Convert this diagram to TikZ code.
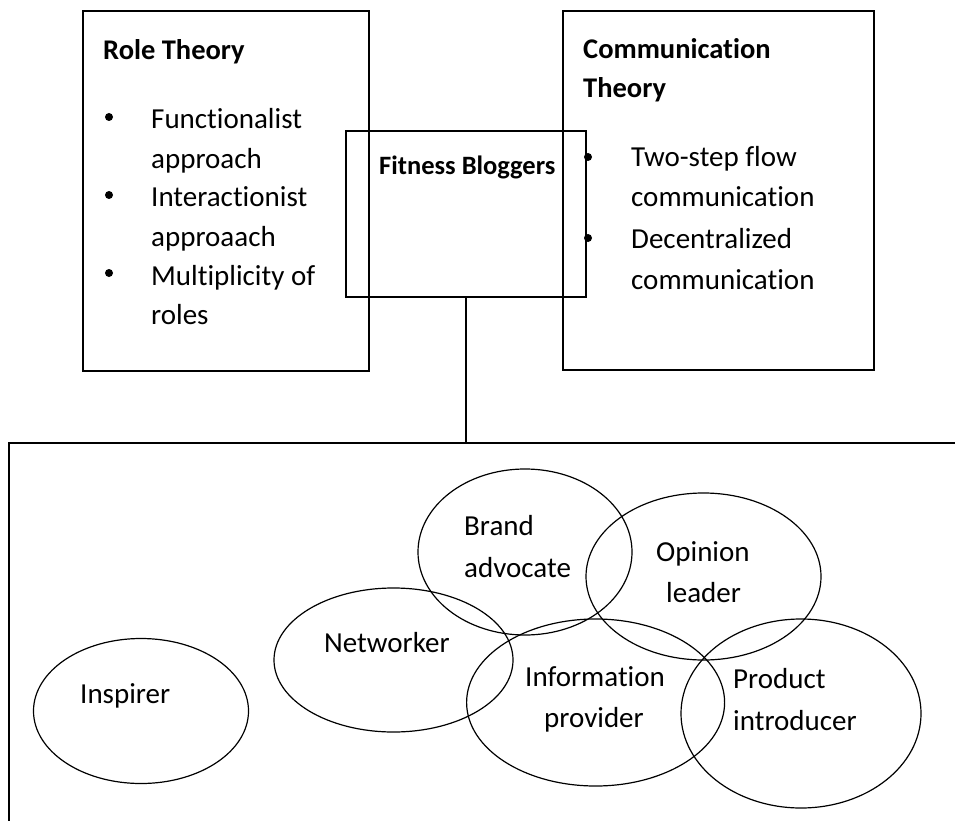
\documentclass[tikz,border=0pt]{standalone}
\usepackage{fontspec}
\setmainfont{Carlito}[Ligatures={NoCommon}]
\usetikzlibrary{shapes.geometric}
\begin{document}
\begin{tikzpicture}[x=1pt,y=-1pt,
  frame/.style={draw, line width=1.8pt, inner sep=0pt},
  rolecirc/.style={draw, ellipse, line width=1.2pt, inner sep=0pt},
  body/.style={anchor=base west, inner sep=0pt, font=\fontsize{29}{35}\selectfont},
  head/.style={anchor=base west, inner sep=0pt, font=\bfseries\fontsize{28.5}{35}\selectfont},
  bul/.style={circle, fill, inner sep=0pt, minimum size=8pt}]
\useasboundingbox (0,0) rectangle (955,821);
\clip (0,0) rectangle (955,821);
\fill[white] (0,0) rectangle (955,821);

% boxes
\node[frame, minimum width=286pt, minimum height=360pt] (role) at (226,191) {};
\node[frame, minimum width=311pt, minimum height=359pt] (comm) at (718.5,190.5) {};
\node[frame, minimum width=240pt, minimum height=166pt] (fb) at (466,214) {};
\node[frame, minimum width=1091pt, minimum height=557pt] (big) at (554.5,721.5) {};
\draw[line width=2pt] (fb.south) -- (fb.south |- big.north);

% Role theory
\node[head] (rt) at (103,60) {Role Theory};
\node[bul] (rb1) at (109,117) {};
\node[bul] (rb2) at (109,195) {};
\node[bul] (rb3) at (109,273) {};
\node[body] (r1) at (151,129) {Functionalist};
\node[body] (r2) at (151,168) {approach};
\node[body] (r3) at (151,207) {Interactionist};
\node[body] (r4) at (151,246) {approaach};
\node[body] (r5) at (151,285) {Multiplicity of};
\node[body] (r6) at (151,324) {roles};

% Communication theory
\node[head] (ct1) at (583,59) {Communication};
\node[head] (ct2) at (583,98) {Theory};
\node[bul] (cb1) at (588,157) {};
\node[bul] (cb2) at (588,238) {};
\node[body] (c1) at (631,167) {Two-step flow};
\node[body] (c2) at (631,207) {communication};
\node[body] (c3) at (631,248) {Decentralized};
\node[body] (c4) at (631,289) {communication};

% Fitness bloggers
\node[head, font=\bfseries\fontsize{26.5}{32}\selectfont] (fbt) at (379,175) {Fitness Bloggers};

% roles
\node[rolecirc, minimum width=215pt, minimum height=145pt] (insp) at (141,711) {};
\node[rolecirc, minimum width=239pt, minimum height=144pt] (netw) at (393.5,660) {};
\node[rolecirc, minimum width=214pt, minimum height=166pt] (brand) at (525,552) {};
\node[rolecirc, minimum width=235pt, minimum height=167pt] (opin) at (703.5,576.5) {};
\node[rolecirc, minimum width=258pt, minimum height=167pt] (info) at (595.6,702.5) {};
\node[rolecirc, minimum width=240pt, minimum height=189pt] (prod) at (801,713.5) {};

\node[body] (l1) at (80,703) {Inspirer};
\node[body] (l2) at (324,652) {Networker};
\node[body] (l3) at (464,535) {Brand};
\node[body] (l4) at (464,577) {advocate};
\node[body] (l5) at (656,561) {Opinion};
\node[body] (l6) at (666,602) {leader};
\node[body] (l7) at (525,686) {Information};
\node[body] (l8) at (544,727) {provider};
\node[body] (l9) at (733,688) {Product};
\node[body] (l10) at (733,730) {introducer};
\end{tikzpicture}
\end{document}
